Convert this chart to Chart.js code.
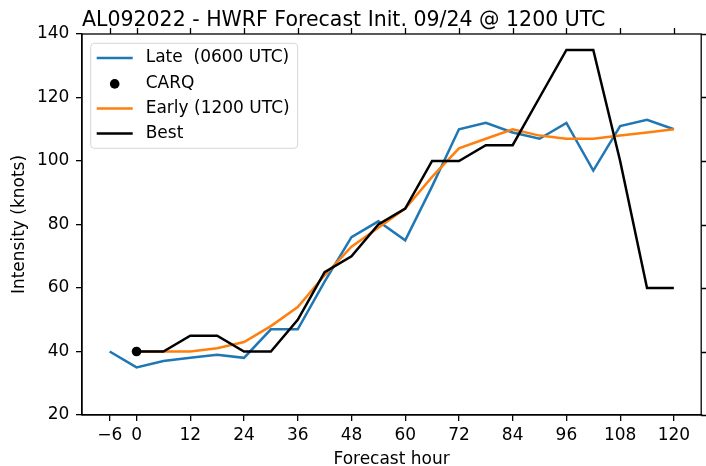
<!DOCTYPE html>
<html>
<head>
<meta charset="utf-8">
<title>AL092022 HWRF intensity</title>
<script src="https://cdn.jsdelivr.net/npm/chart.js@4.4.1/dist/chart.umd.min.js"></script>
<style>
  body { margin: 0; background: #fff; }
  #wrap { width: 706px; height: 466px; }
</style>
</head>
<body>
<div id="wrap"><canvas id="intensityChart" width="706" height="466"></canvas></div>
<script>
//forecast data (knots) by forecast hour
const lateHours = [-6, 0, 6, 12, 18, 24, 30, 36, 42, 48, 54, 60, 66, 72, 78, 84, 90, 96, 102, 108, 114, 120];
const lateValues = [40, 35, 37, 38, 39, 38, 47, 47, 62, 76, 81, 75, 92, 110, 112, 109, 107, 112, 97, 111, 113, 110];

const carqHours = [0];
const carqValues = [40];

const earlyHours = [0, 6, 12, 18, 24, 30, 36, 42, 48, 54, 60, 66, 72, 78, 84, 90, 96, 102, 108, 114, 120];
const earlyValues = [40, 40, 40, 41, 43, 48, 54, 64, 73, 79, 85, 95, 104, 107, 110, 108, 107, 107, 108, 109, 110];

const bestHours = [0, 6, 12, 18, 24, 30, 36, 42, 48, 54, 60, 66, 72, 78, 84, 90, 96, 102, 108, 114, 120];
const bestValues = [40, 40, 45, 45, 40, 40, 50, 65, 70, 80, 85, 100, 100, 105, 105, 120, 135, 135, 100, 60, 60];

//axis ticks
const xTicks = [-6, 0, 12, 24, 36, 48, 60, 72, 84, 96, 108, 120];
const yTicks = [20, 40, 60, 80, 100, 120, 140];

const titleText = 'AL092022 - HWRF Forecast Init. 09/24 @ 1200 UTC';

const FONT = 'DejaVu Sans';
Chart.defaults.font.family = FONT;
Chart.defaults.color = '#000';

function points(hours, values) {
    return hours.map((h, i) => ({ x: h, y: values[i] }));
}

//title left-aligned with the plot frame
const titlePlugin = {
    id: 'plotTitle',
    afterDraw(chart) {
        const ctx = chart.ctx;
        ctx.save();
        ctx.font = '20.5px "' + FONT + '"';
        ctx.fillStyle = '#000';
        ctx.textAlign = 'left';
        ctx.textBaseline = 'alphabetic';
        ctx.fillText(titleText, chart.chartArea.left, 25.7);
        ctx.restore();
    }
};

//box around the plot plus ticks on the top and right sides
const framePlugin = {
    id: 'frame',
    afterDraw(chart) {
        const { ctx, chartArea: a, scales } = chart;
        ctx.save();
        ctx.strokeStyle = '#000';
        ctx.lineWidth = 1.3;
        ctx.strokeRect(a.left, a.top, a.right - a.left, a.bottom - a.top);
        ctx.beginPath();
        scales.x.ticks.forEach(t => {
            const px = Math.round(scales.x.getPixelForValue(t.value)) + 0.5;
            ctx.moveTo(px, a.top);
            ctx.lineTo(px, a.top - 6);
        });
        scales.y.ticks.forEach(t => {
            const py = Math.round(scales.y.getPixelForValue(t.value)) + 0.5;
            ctx.moveTo(a.right, py);
            ctx.lineTo(a.right + 6, py);
        });
        ctx.stroke();
        ctx.restore();
    }
};

//legend box in the upper left corner of the plot
const legendPlugin = {
    id: 'boxLegend',
    afterDraw(chart) {
        const { ctx, chartArea: a } = chart;
        const sets = chart.data.datasets;
        const pad = 6, handle = 36, gap = 13, rowGap = 25.2, edge = 14.7;
        ctx.save();
        ctx.font = '17px "' + FONT + '"';
        let textW = 0;
        sets.forEach(d => { textW = Math.max(textW, ctx.measureText(d.label).width); });
        const x0 = a.left + 8.7, y0 = a.top + 9.3;
        const w = pad + handle + gap + textW + 8;
        const h = edge * 2 + rowGap * (sets.length - 1);
        ctx.beginPath();
        ctx.roundRect(x0, y0, w, h, 3.5);
        ctx.fillStyle = 'rgba(255,255,255,0.8)';
        ctx.fill();
        ctx.strokeStyle = '#d6d6d6';
        ctx.lineWidth = 1;
        ctx.stroke();
        sets.forEach((d, i) => {
            const y = y0 + edge + i * rowGap;
            const hx = x0 + pad;
            if (d.showLine === false) {
                ctx.beginPath();
                ctx.arc(hx + handle / 2, y + 0.7, d.pointRadius, 0, Math.PI * 2);
                ctx.fillStyle = d.pointBackgroundColor;
                ctx.fill();
            } else {
                ctx.beginPath();
                ctx.moveTo(hx, y);
                ctx.lineTo(hx + handle, y);
                ctx.strokeStyle = d.borderColor;
                ctx.lineWidth = d.borderWidth;
                ctx.stroke();
            }
            ctx.fillStyle = '#000';
            ctx.textAlign = 'left';
            ctx.textBaseline = 'middle';
            ctx.fillText(d.label, hx + handle + gap, y);
        });
        ctx.restore();
    }
};

const lineStyle = { borderWidth: 2.5, pointRadius: 0, tension: 0, fill: false };

new Chart(document.getElementById('intensityChart'), {
    type: 'line',
    data: {
        datasets: [
            Object.assign({ label: 'Late  (0600 UTC)', data: points(lateHours, lateValues), borderColor: '#1f77b4', order: 4 }, lineStyle),
            { label: 'CARQ', data: points(carqHours, carqValues), showLine: false, pointRadius: 4.8, pointBorderWidth: 0,
              pointBackgroundColor: '#000', borderColor: '#000', backgroundColor: '#000', order: 1 },
            Object.assign({ label: 'Early (1200 UTC)', data: points(earlyHours, earlyValues), borderColor: '#ff7f0e', order: 3 }, lineStyle),
            Object.assign({ label: 'Best', data: points(bestHours, bestValues), borderColor: '#000', order: 2 }, lineStyle)
        ]
    },
    options: {
        responsive: false,
        animation: false,
        devicePixelRatio: 1,
        layout: { padding: { top: 34, right: 3, left: 0, bottom: 0 } },
        plugins: {
            legend: { display: false },
            tooltip: { enabled: false },
            title: { display: false }
        },
        scales: {
            x: {
                type: 'linear',
                min: -12.18,
                max: 126.1,
                afterBuildTicks: scale => { scale.ticks = xTicks.map(v => ({ value: v })); },
                afterFit: scale => {
                    scale.height = 51;
                    //labels sit well inside the frame, no extra side room needed
                    scale.paddingLeft = 0;
                    scale.paddingRight = 0;
                },
                ticks: {
                    font: { size: 17 },
                    padding: 4,
                    maxRotation: 0,
                    autoSkip: false,
                    callback: v => (v < 0 ? '\u2212' + Math.abs(v) : String(v))
                },
                grid: { drawOnChartArea: false, drawTicks: true, tickLength: 6, color: '#000', lineWidth: 1.3 },
                border: { display: true, color: '#000', width: 1.3 },
                title: { display: true, text: 'Forecast hour', font: { size: 17 }, padding: { top: 0, bottom: -4 } }
            },
            y: {
                min: 20,
                max: 140,
                afterBuildTicks: scale => { scale.ticks = yTicks.map(v => ({ value: v })); },
                afterFit: scale => { scale.width = 82; },
                ticks: { font: { size: 17 }, padding: 6.6 },
                grid: { drawOnChartArea: false, drawTicks: true, tickLength: 6, color: '#000', lineWidth: 1.3 },
                border: { display: true, color: '#000', width: 1.3 },
                title: { display: true, text: 'Intensity (knots)', font: { size: 17 }, padding: { top: 9.3, bottom: 0 } }
            }
        }
    },
    plugins: [titlePlugin, framePlugin, legendPlugin]
});
</script>
</body>
</html>
